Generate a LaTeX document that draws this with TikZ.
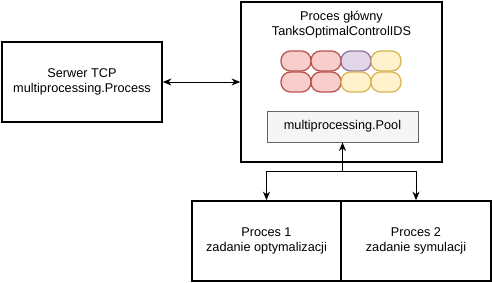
\documentclass[tikz,border=0pt]{standalone}
\usepackage{fontspec}
\setmainfont{Liberation Sans}
\usetikzlibrary{arrows.meta}
\definecolor{redfill}{HTML}{F8CECC}\definecolor{redline}{HTML}{B85450}
\definecolor{purfill}{HTML}{E1D5E7}\definecolor{purline}{HTML}{9673A6}
\definecolor{yelfill}{HTML}{FFF2CC}\definecolor{yelline}{HTML}{D6B656}
\definecolor{poolfill}{HTML}{F5F5F5}\definecolor{poolline}{HTML}{666666}
\begin{document}
\begin{tikzpicture}[x=1pt,y=-1pt,
  every node/.style={font=\fontsize{12.7}{15}\selectfont, align=center, inner sep=0pt},
  procbox/.style={draw=black, line width=1.6pt, fill=white},
  pill/.style={rounded corners=9.5pt, line width=1.3pt},
  redpill/.style={pill, fill=redfill, draw=redline},
  purpill/.style={pill, fill=purfill, draw=purline},
  yelpill/.style={pill, fill=yelfill, draw=yelline},
  tip/.tip={Stealth[length=8.5pt,width=7pt,inset=2.5pt]},
  conn/.style={line width=1pt, -tip},
  biconn/.style={line width=1pt, tip-tip}]
\useasboundingbox (0,0) rectangle (492,282);

% main process
\node[procbox, minimum width=201pt, minimum height=160pt] (main) at (341.5,82) {};
\node (title) at (341.5,25) {Proces główny\\TanksOptimalControlIDS};

% task pills
\draw[redpill] (281,51) rectangle (311,71);
\draw[redpill] (311,51) rectangle (341,71);
\draw[purpill] (341,51) rectangle (371,71);
\draw[yelpill] (371,51) rectangle (401,71);
\draw[redpill] (281,72) rectangle (311,92);
\draw[redpill] (311,72) rectangle (341,92);
\draw[yelpill] (341,72) rectangle (371,92);
\draw[yelpill] (371,72) rectangle (401,92);

% worker pool
\node[draw=poolline, fill=poolfill, line width=0.9pt, minimum width=151pt, minimum height=31pt]
  (pool) at (342.5,126.5) {multiprocessing.Pool};

% TCP server
\node[procbox, minimum width=160pt, minimum height=80pt] (tcp) at (82,82) {Serwer TCP\\multiprocessing.Process};

% worker processes
\node[procbox, minimum width=149pt, minimum height=80pt] (p1) at (266.5,241) {Proces 1\\zadanie optymalizacji};
\node[procbox, minimum width=150pt, minimum height=80pt] (p2) at (416,241) {Proces 2\\zadanie symulacji};

% connectors
\draw[biconn] (tcp.east) -- (main.west);
\coordinate (j) at (342.5,171);
\draw[conn] (j) -- (pool.south);
\draw[conn] (j) -| (p1.north);
\draw[conn] (j) -| (p2.north);
\end{tikzpicture}
\end{document}
